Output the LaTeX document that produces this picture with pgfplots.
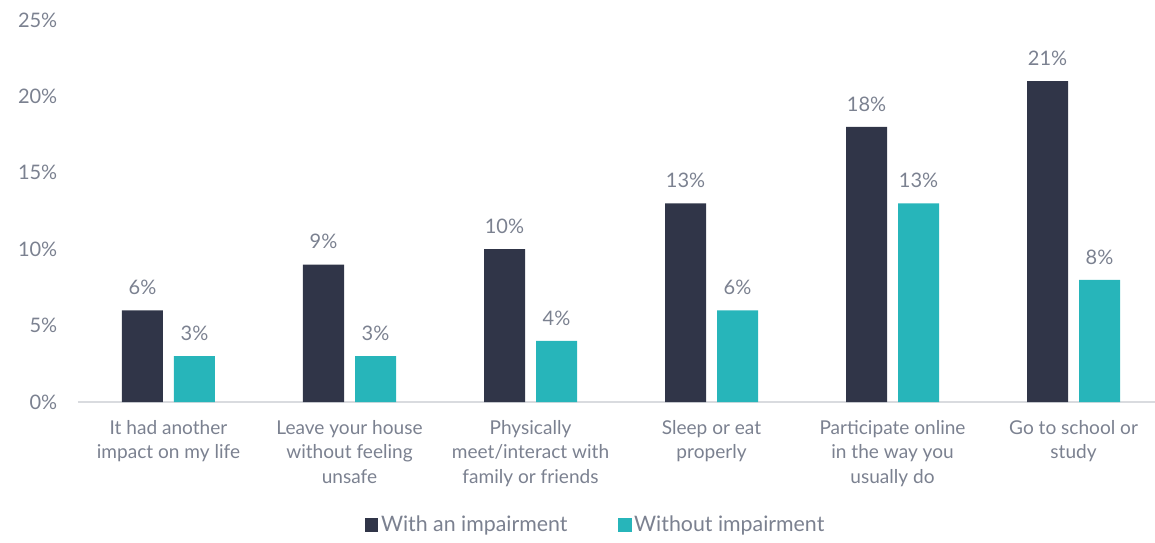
\documentclass[border=0pt]{standalone}
\usepackage{pgfplots}
\pgfplotsset{compat=1.18}
\usepackage{fontspec}
\setmainfont{Lato}
\definecolor{darkbar}{HTML}{303548}
\definecolor{tealbar}{HTML}{27B5BA}
\definecolor{txtgray}{HTML}{7B8190}
\definecolor{basegray}{HTML}{D9DBDF}
\begin{document}
\begin{tikzpicture}
\begin{axis}[
  scale only axis,
  width=807.75pt, height=286.5pt,
  xmin=-0.5, xmax=5.45, ymin=0, ymax=25,
  axis lines*=left,
  x axis line style={draw=basegray, line width=1.2pt},
  y axis line style={draw=none},
  major tick length=0pt,
  xtick={0,1,2,3,4,5},
  xticklabels={{It had another\\impact on my life},{Leave your house\\without feeling\\unsafe},{Physically\\meet/interact with\\family or friends},{Sleep or eat\\properly},{Participate online\\in the way you\\usually do},{Go to school or\\study}},
  xticklabel style={align=center, font=\fontsize{14.3}{18.5}\selectfont, text=txtgray, yshift=-10pt},
  ytick={0,5,10,15,20,25},
  yticklabel={\pgfmathprintnumber{\tick}\%},
  yticklabel style={font=\fontsize{15}{17}\selectfont, text=txtgray, xshift=-12pt},
  /pgf/number format/assume math mode=true,
  ybar, bar width=30.75pt,
  clip=false,
  nodes near coords={\pgfmathprintnumber{\pgfplotspointmeta}\%},
  nodes near coords style={font=\fontsize{15}{17}\selectfont, text=txtgray, yshift=8pt},
  legend style={draw=none, at={(rel axis cs:0.481,-0.322)}, anchor=center, legend columns=2, font=\fontsize{16}{18}\selectfont, text=txtgray, /tikz/every even column/.append style={column sep=36pt}},
  legend image code/.code={\fill[#1] (0pt,-5pt) rectangle (10pt,5pt);},
]
\addplot[fill=darkbar, draw=none, bar shift=-19.5pt] coordinates {(0,6) (1,9) (2,10) (3,13) (4,18) (5,21)};
\addplot[fill=tealbar, draw=none, bar shift=19.5pt] coordinates {(0,3) (1,3) (2,4) (3,6) (4,13) (5,8)};
\legend{With an impairment, Without impairment}
\coordinate (bl) at (rel axis cs:-0.0724,-0.369);
\coordinate (tr) at (rel axis cs:1.0,1.0524);
\end{axis}
\pgfresetboundingbox
\path (bl) rectangle (tr);
\end{tikzpicture}
\end{document}
